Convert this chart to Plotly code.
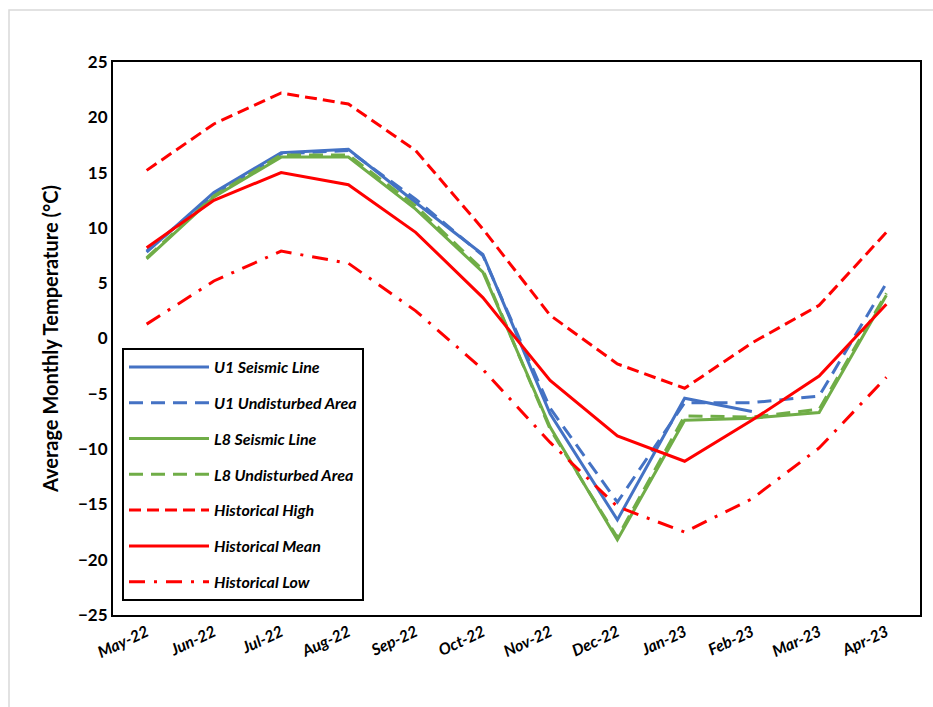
import plotly.graph_objects as go

months = ["May-22", "Jun-22", "Jul-22", "Aug-22", "Sep-22", "Oct-22",
          "Nov-22", "Dec-22", "Jan-23", "Feb-23", "Mar-23", "Apr-23"]

u1_seismic = [7.8, 13.2, 16.8, 17.1, 12.3, 7.6, -6.8, -16.4, -5.4, -6.6, None, None]
u1_undisturbed = [7.9, 13.0, 16.7, 17.0, 12.6, 7.5, -6.3, -14.8, -5.8, -5.8, -5.2, 5.0]
l8_seismic = [7.2, 12.8, 16.4, 16.4, 11.7, 6.0, -8.0, -18.2, -7.4, -7.2, -6.7, 3.9]
l8_undisturbed = [7.3, 12.9, 16.6, 16.6, 12.0, 6.2, -8.2, -18.0, -7.0, -7.1, -6.4, 4.1]
hist_high = [15.2, 19.4, 22.2, 21.2, 17.0, 9.9, 2.1, -2.3, -4.5, -0.4, 3.0, 9.6]
hist_mean = [8.2, 12.5, 15.0, 13.9, 9.6, 3.7, -3.8, -8.8, -11.1, -7.4, -3.4, 3.1]
hist_low = [1.3, 5.2, 7.9, 6.8, 2.5, -2.8, -9.4, -15.2, -17.5, -14.5, -9.9, -3.5]

y_ticks = [25, 20, 15, 10, 5, 0, -5, -10, -15, -20, -25]

BLUE = "#4472C4"
GREEN = "#70AD47"
RED = "#FF0000"
FONT = "Lato"

series = [
    ("U1 Seismic Line", u1_seismic, BLUE, "solid"),
    ("U1 Undisturbed Area", u1_undisturbed, BLUE, "14px,8px"),
    ("L8 Seismic Line", l8_seismic, GREEN, "solid"),
    ("L8 Undisturbed Area", l8_undisturbed, GREEN, "14px,8px"),
    ("Historical High", hist_high, RED, "12px,6px"),
    ("Historical Mean", hist_mean, RED, "solid"),
    ("Historical Low", hist_low, RED, "16px,9px,3px,9px"),
]

fig = go.Figure()
for name, vals, color, dash in series:
    fig.add_trace(go.Scatter(
        x=months, y=vals, mode="lines", name=name,
        legendgroup=name,
        line=dict(color=color, width=3, dash=dash),
        connectgaps=False,
    ))

PLOT_W, PLOT_H = 807, 553
ML, MT = 113, 62

fig.update_layout(
    width=933, height=707,
    margin=dict(l=ML, r=933 - ML - PLOT_W, t=MT, b=707 - MT - PLOT_H),
    paper_bgcolor="white", plot_bgcolor="white",
    font=dict(family=FONT, color="black"),
    showlegend=True,
    legend=dict(
        x=9 / PLOT_W, y=(PLOT_H - 286) / PLOT_H, xanchor="left", yanchor="top",
        bordercolor="black", borderwidth=2, bgcolor="white",
        font=dict(family=FONT, size=16, color="black", weight="bold", style="italic"),
        tracegroupgap=12, traceorder="grouped",
        itemwidth=80,
    ),
    xaxis=dict(
        type="category", range=[-0.5, 11.5],
        showline=True, linecolor="black", linewidth=2, mirror=True,
        showgrid=False, ticks="", tickangle=-25,
        tickfont=dict(family=FONT, size=16, color="black", weight="bold", style="italic"),
    ),
    yaxis=dict(
        range=[-25, 25], tickvals=y_ticks,
        showline=True, linecolor="black", linewidth=2, mirror=True,
        showgrid=False, zeroline=False, ticks="",
        tickfont=dict(family=FONT, size=17, color="black", weight="bold"),
        title=dict(text="Average Monthly Temperature (°C)",
                   font=dict(family=FONT, size=20, color="black", weight="bold"),
                   standoff=14),
    ),
    # light grey outline of the chart area
    shapes=[dict(type="rect", xref="paper", yref="paper",
                 x0=(9 - ML) / PLOT_W, x1=(945 - ML) / PLOT_W,
                 y0=-(720 - MT - PLOT_H) / PLOT_H, y1=(PLOT_H + MT - 10) / PLOT_H,
                 line=dict(color="#D9D9D9", width=1.5), layer="below")],
)

fig.write_html("out.html")
